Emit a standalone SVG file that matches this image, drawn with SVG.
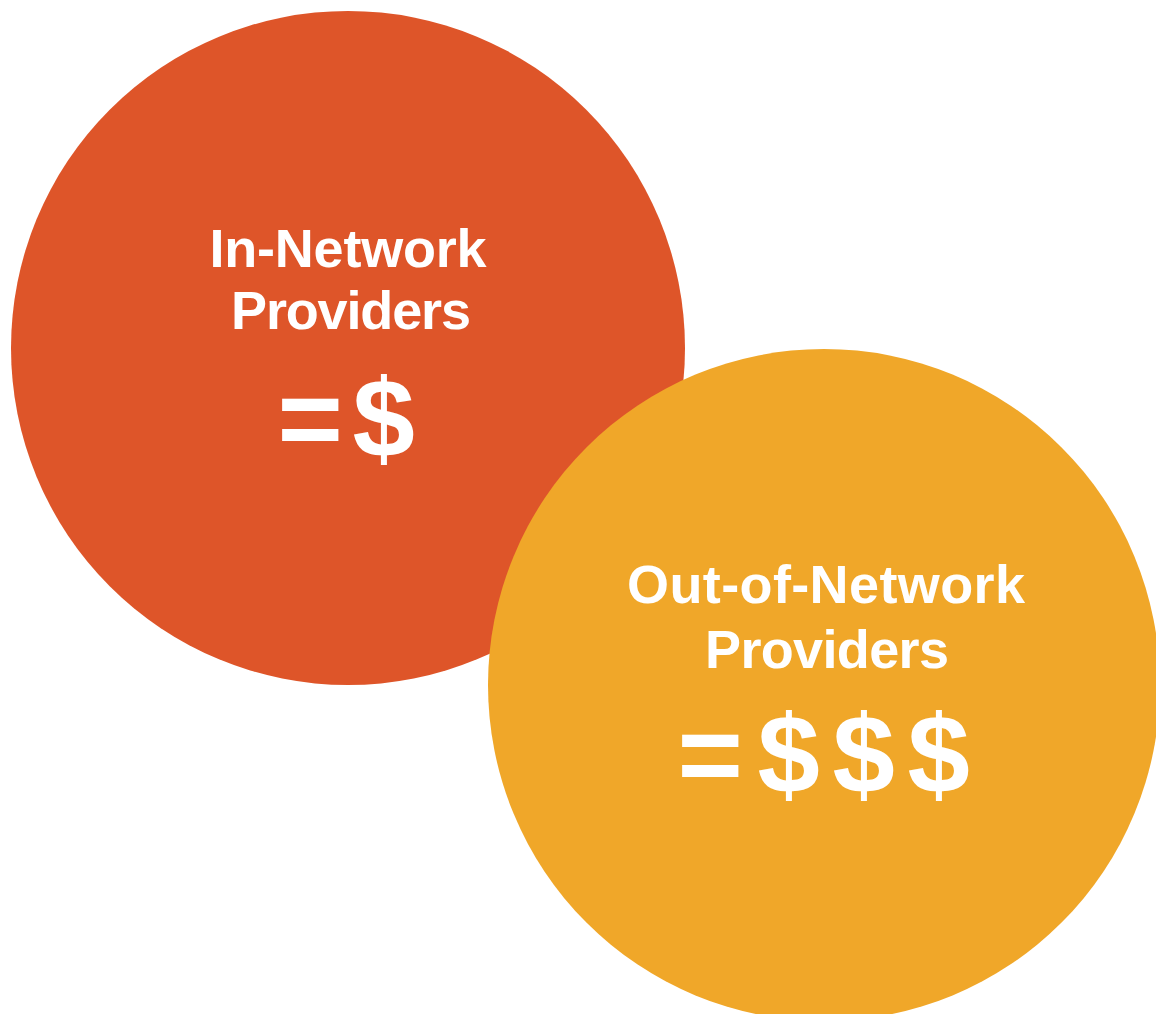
<svg xmlns="http://www.w3.org/2000/svg" width="1156" height="1014" viewBox="0 0 1156 1014">
<style>
.lbl{font-family:"Liberation Sans",Arial,sans-serif;font-weight:bold;fill:#FFFFFF}
.t{font-size:54px;text-anchor:middle}
.big{font-size:112px;text-anchor:start}
</style>
<rect x="0" y="0" width="1156" height="1014" fill="#FFFFFF"/>
<g id="in-network">
<circle cx="348" cy="348" r="337" fill="#DE5529"/>
<text class="lbl t" x="348" y="267" textLength="277" lengthAdjust="spacing">In-Network</text>
<text class="lbl t" x="351" y="329" textLength="240" lengthAdjust="spacing">Providers</text>
<text class="lbl big" y="457"><tspan x="277.5">=</tspan><tspan x="352.5">$</tspan></text>
</g>
<g id="out-of-network">
<circle cx="824" cy="685" r="336" fill="#F0A729"/>
<text class="lbl t" x="826" y="603" textLength="398" lengthAdjust="spacing">Out-of-Network</text>
<text class="lbl t" x="827" y="668" textLength="244" lengthAdjust="spacing">Providers</text>
<text class="lbl big" y="793"><tspan x="677.5">=</tspan><tspan x="757.5">$</tspan><tspan x="832.5">$</tspan><tspan x="907.5">$</tspan></text>
</g>
<g id="connectors"></g>
</svg>
